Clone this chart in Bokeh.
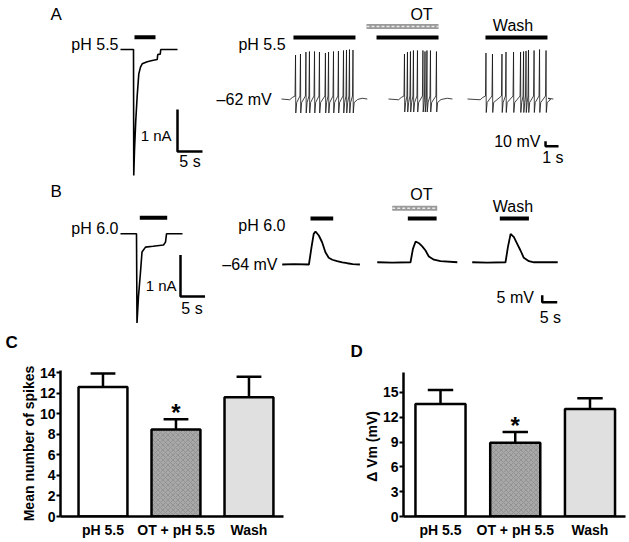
from bokeh.plotting import figure
from bokeh.models import Label, Range1d, FixedTicker, ColumnDataSource
from bokeh.layouts import column, row
from bokeh.embed import file_html
from bokeh.resources import INLINE

FONT = "Liberation Sans"

# ---------------- data ----------------
# A, left: whole-cell current during pH 5.5 (time s, current nA)
A_I_T = [0, 2.6, 2.65, 2.8, 3.05, 3.34, 3.66, 4.0, 4.34, 5.34, 6.34, 7.34, 7.45, 7.95, 8.05, 11.4]
A_I_NA = [0, 0, -3.0, -2.4, -1.7, -1.1, -0.58, -0.42, -0.34, -0.29, -0.26, -0.24, -0.12, -0.11, 0, 0]
A_PH_BAR = [2.8, 7.0]

# B, left: whole-cell current during pH 6.0
B_I_T = [0, 3.2, 3.3, 3.6, 4.0, 4.3, 5.0, 6.5, 8.6, 9.0, 9.2, 12.4]
B_I_NA = [0, 0, -2.15, -1.5, -0.92, -0.44, -0.32, -0.30, -0.27, -0.20, 0, 0]
B_PH_BAR = [3.86, 9.34]

# A, right: spikes (time within sweep s, peak mV) for pH 5.5 / OT + pH 5.5 / Wash
A_REST = -62
A_SWEEP_LEN = [6.6, 4.92, 6.6]
A_SPK1_T = [1.08, 1.46, 1.88, 2.15, 2.54, 2.92, 3.38, 3.62, 4.00, 4.38, 4.77, 5.00, 5.23, 5.50]
A_SPK1_PEAK = [26, 28, 32, 33, 33, 32, 30, 32, 33, 34, 35, 36, 37, 36]
A_SPK2_T = [1.23, 1.46, 1.69, 1.92, 2.23, 2.65, 2.81, 2.96, 3.23, 3.69]
A_SPK2_PEAK = [28, 32, 33, 35, 35, 35, 33, 35, 35, 33]
A_SPK3_T = [1.42, 1.92, 2.65, 2.96, 3.54, 4.08, 4.31, 4.50, 4.69, 5.12, 5.54, 6.04]
A_SPK3_PEAK = [30, 28, 28, 32, 32, 32, 33, 34, 36, 35, 37, 35]
A_TROUGH = [-90, -88, -89]
A_PH_BARS = [(0.92, 5.69), (-0.92, 3.85), (1.38, 6.15)]
A_OT_BAR = (-1.69, 3.85)

# B, right: depolarisation (time within sweep s, mV above -64 mV rest)
B_REST = -64
B_VM1_T = [0, 4.0, 8.9, 9.77, 10.5, 11.1, 12.2, 13.3, 14.4, 15.5, 16.7, 18.3, 20.0, 21.7, 23.5, 25.9]
B_VM1_DV = [0, 0.2, 0, 12.4, 21.9, 23.6, 20.7, 15.9, 8.8, 4.8, 3.4, 2.4, 1.6, 0.9, 0.3, 0]
B_VM2_T = [0, 5.0, 11.1, 11.9, 12.8, 13.9, 15.0, 16.1, 17.2, 18.9, 21.1, 26.7]
B_VM2_DV = [1.6, 1.4, 1.6, 11.2, 16.4, 15.2, 12.9, 10.0, 5.7, 3.4, 2.4, 1.6]
B_VM3_T = [0, 5.0, 11.1, 11.9, 12.8, 13.9, 15.0, 16.1, 17.2, 18.9, 20.6, 28.5]
B_VM3_DV = [1.6, 1.4, 1.6, 12.4, 21.9, 19.5, 14.8, 10.0, 4.8, 2.4, 1.6, 1.6]
B_PH_BARS = [(9.43, 17.0), (10.2, 19.8), (9.2, 18.9)]
B_OT_BAR = (5.0, 20.0)

# C and D: summary bars
GROUPS = ["pH 5.5", "OT + pH 5.5", "Wash"]
C_MEAN = [12.6, 8.45, 11.6]
C_SEM = [1.3, 1.0, 2.0]
D_MEAN = [13.6, 8.9, 13.0]
D_SEM = [1.7, 1.3, 1.3]
BAR_FILL = ["white", "#a8a8a8", "#e0e0e0"]
BAR_HATCH = [" ", "diagonal_cross", " "]

# ---------------- helpers ----------------
def blank(w, h, xr, yr):
    p = figure(width=w, height=h, x_range=Range1d(*xr), y_range=Range1d(*yr),
               output_backend="svg", toolbar_location=None,
               x_axis_type=None, y_axis_type=None, min_border=0, frame_align=False)
    p.outline_line_color = None
    p.background_fill_color = "white"
    p.border_fill_color = "white"
    return p


def label(p, x, y, text, size=16, align="left", bold=False):
    p.add_layout(Label(x=x, y=y, text=text, text_font=FONT, text_font_size=f"{size}px",
                       text_align=align, text_baseline="middle",
                       text_font_style="bold" if bold else "normal", text_color="black"))


def ot_bar(p, x0, x1, y):
    p.line([x0, x1], [y, y], line_width=5, color="#9a9a9a")
    p.line([x0, x1], [y, y], line_width=1.5, color="#e8e8e8", line_dash="3 2")


def spike_path(t0, dur, times, peaks, trough, rest):
    xs = [t0, t0 + times[0] - 0.45, t0 + times[0] - 0.25]
    ys = [rest, rest - 1.5, rest + 3]
    for ts, pk in zip(times, peaks):
        xs += [t0 + ts - 0.04, t0 + ts, t0 + ts + 0.02, t0 + ts + 0.09]
        ys += [rest + 6, pk, trough, rest - 7]
    xs += [t0 + times[-1] + 0.35, t0 + dur - 0.4, t0 + dur]
    ys += [rest - 1, rest + 1.5, rest]
    return xs, ys

# ---------------- A left ----------------
al = blank(205, 176, (-24.0, 17.0), (-3.0238, 1.1667))
al.line(A_I_T, A_I_NA, line_width=1.6, color="black")
al.line(A_PH_BAR, [0.29, 0.29], line_width=4, color="black")
al.line([11.4, 11.4, 11.4 + 5], [-2.429 + 1, -2.429, -2.429], line_width=2.5, color="black")
label(al, -14.0, 0.833, "A", size=17)
label(al, -0.4, 0.11, "pH 5.5", size=16, align="right")
label(al, 10.2, -2.042, "1 nA", size=15, align="right")
label(al, 13.9, -2.676, "5 s", size=16, align="center")

# ---------------- A right ----------------
ar = blank(424, 176, (-5.846, 26.77), (-217, 135))
A_X0 = [0, 8.23, 14.31]
for x0, dur, ts, pk, tr in zip(A_X0, A_SWEEP_LEN, [A_SPK1_T, A_SPK2_T, A_SPK3_T],
                               [A_SPK1_PEAK, A_SPK2_PEAK, A_SPK3_PEAK], A_TROUGH):
    xs, ys = spike_path(x0, dur, ts, pk, tr, A_REST)
    ar.line(xs, ys, line_width=0.8, color="#111111")
ot_bar(ar, A_X0[1] + A_OT_BAR[0], A_X0[1] + A_OT_BAR[1], 83)
for x0, (b0, b1) in zip(A_X0, A_PH_BARS):
    ar.line([x0 + b0, x0 + b1], [61, 61], line_width=4, color="black")
ar.line([20.31, 20.31, 20.31 + 1], [-156.4 + 10, -156.4, -156.4], line_width=2.5, color="black")
label(ar, 0.31, 46.2, "pH 5.5", size=16, align="right")
label(ar, -0.75, -63, "\u201362 mV", size=16, align="right")
label(ar, 10.77, 106.2, "OT", size=16, align="center")
label(ar, 17.81, 84.2, "Wash", size=16, align="center")
label(ar, 19.92, -147.2, "10 mV", size=16, align="right")
label(ar, 20.88, -179.8, "1 s", size=16, align="center")

# ---------------- B left ----------------
bl = blank(205, 156, (-24.0, 17.0), (-2.378, 1.381))
bl.line(B_I_T, B_I_NA, line_width=1.6, color="black")
bl.line(B_PH_BAR, [0.386, 0.386], line_width=4, color="black")
bl.line([12.0, 12.0, 12.0 + 5], [-1.511 + 1, -1.511, -1.511], line_width=2.5, color="black")
label(bl, -14.0, 1.027, "B", size=17)
label(bl, -0.4, 0.118, "pH 6.0", size=16, align="right")
label(bl, 11.2, -1.24, "1 nA", size=15, align="right")
label(bl, 14.3, -1.798, "5 s", size=16, align="center")

# ---------------- B right ----------------
br = blank(424, 156, (-25.57, 115.76), (-112.57, -1.143))
B_X0 = [0, 31.67, 63.33]
for x0, t, dv in zip(B_X0, [B_VM1_T, B_VM2_T, B_VM3_T], [B_VM1_DV, B_VM2_DV, B_VM3_DV]):
    br.line([x0 + v for v in t], [B_REST + v for v in dv], line_width=1.8, color="black")
ot_bar(br, B_X0[1] + B_OT_BAR[0], B_X0[1] + B_OT_BAR[1], -23.8)
for x0, (b0, b1) in zip(B_X0, B_PH_BARS):
    br.line([x0 + b0, x0 + b1], [-31.2, -31.2], line_width=4, color="black")
br.line([86.67, 86.67, 86.67 + 5], [-90.9 + 5, -90.9, -90.9], line_width=2.5, color="black")
label(br, 1.1, -36.4, "pH 6.0", size=16, align="right")
label(br, -1.57, -64, "\u201364 mV", size=16, align="right")
label(br, 46.4, -14.3, "OT", size=16, align="center")
label(br, 76.9, -22.6, "Wash", size=16, align="center")
label(br, 83.9, -87.9, "5 mV", size=16, align="right")
label(br, 89.4, -102.1, "5 s", size=16, align="center")

# ---------------- C and D ----------------
def header(w, h, letter, x, y):
    p = blank(w, h, (0, w), (0, h))
    label(p, x, y, letter, size=17, bold=True)
    return p


def bar_panel(w, h, xr, yr, borders, means, sems, ticks, ylabel, star_y):
    p = figure(width=w, height=h, x_range=Range1d(*xr), y_range=Range1d(*yr),
               output_backend="svg", toolbar_location=None, frame_align=False,
               min_border_left=borders[0], min_border_right=borders[1],
               min_border_top=borders[2], min_border_bottom=borders[3])
    p.outline_line_color = None
    p.grid.visible = False
    xs = [1, 2, 3]
    tops = [m + s for m, s in zip(means, sems)]
    p.segment(x0=xs, y0=means, x1=xs, y1=tops, line_width=2.5, color="black")
    p.segment(x0=[x - 0.17 for x in xs], y0=tops, x1=[x + 0.17 for x in xs], y1=tops,
              line_width=2.5, color="black")
    src = ColumnDataSource(dict(x=xs, top=means, fill=BAR_FILL, hatch=BAR_HATCH))
    p.vbar(x="x", top="top", bottom=0, width=0.67, source=src, fill_color="fill",
           hatch_pattern="hatch", hatch_color="#7a7a7a", hatch_scale=5, hatch_weight=0.8,
           hatch_alpha=0.6, line_color="black", line_width=2.5)
    p.add_layout(Label(x=2, y=star_y, text="*", text_font=FONT, text_font_size="24px",
                       text_font_style="bold", text_align="center", text_baseline="middle",
                       text_color="black"))
    for ax in (p.xaxis[0], p.yaxis[0]):
        ax.axis_line_width = 2.5
        ax.axis_line_color = "black"
        ax.major_label_text_font = FONT
        ax.major_label_text_font_size = "14px"
        ax.major_label_text_font_style = "bold"
        ax.major_label_text_color = "black"
        ax.minor_tick_line_color = None
    p.xaxis.ticker = FixedTicker(ticks=xs)
    p.xaxis.major_label_overrides = {x: g for x, g in zip(xs, GROUPS)}
    p.xaxis.major_tick_line_color = None
    p.xaxis.major_tick_in = 0
    p.xaxis.major_tick_out = 0
    p.xaxis.major_label_standoff = 5
    p.yaxis.ticker = FixedTicker(ticks=ticks)
    p.yaxis.major_tick_in = 0
    p.yaxis.major_tick_out = 4
    p.yaxis.major_tick_line_width = 2
    p.yaxis.major_tick_line_color = "black"
    p.yaxis.major_label_standoff = 1
    p.yaxis.axis_label = ylabel
    p.yaxis.axis_label_text_font = FONT
    p.yaxis.axis_label_text_font_size = "14px"
    p.yaxis.axis_label_text_font_style = "bold"
    p.yaxis.axis_label_text_color = "black"
    p.yaxis.axis_label_standoff = 0
    return p

c_head = header(318, 30, "C", 5, 20)
d_head = header(311, 30, "D", 32, 11)
c = bar_panel(318, 180, (0.418, 3.473), (0, 14.2), (60, 35, 8, 26), C_MEAN, C_SEM,
              [0, 2, 4, 6, 8, 10, 12, 14], "Mean number of spikes", 10.14)
d = bar_panel(311, 180, (0.505, 3.475), (0, 17.4), (85, 4, 10, 26), D_MEAN, D_SEM,
              [0, 3, 6, 9, 12, 15], "\u0394 Vm  (mV)", 10.97)

layout = column(row(al, ar), row(bl, br), row(column(c_head, c), column(d_head, d)))
open("out.html", "w").write(file_html(layout, INLINE, title="figure"))
